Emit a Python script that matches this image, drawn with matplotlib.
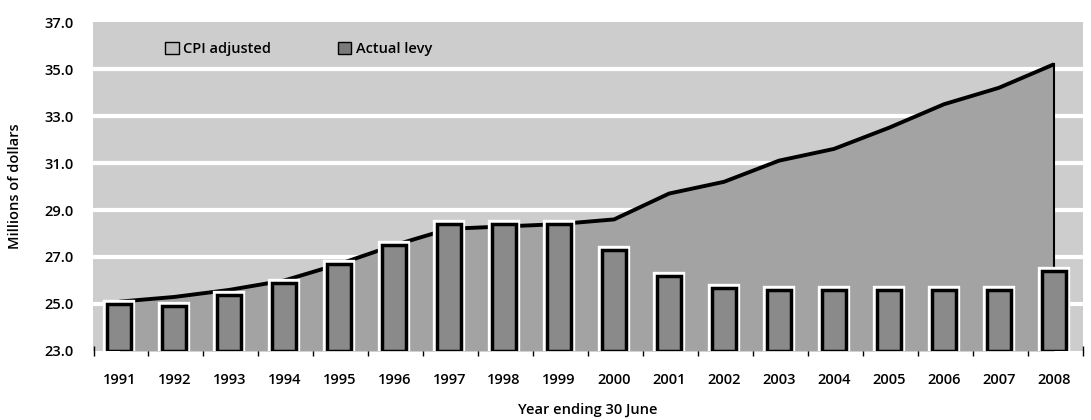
import matplotlib
matplotlib.use("Agg")
import matplotlib.pyplot as plt
import numpy as np
from matplotlib.patches import Patch

# Data (millions of dollars)
years = [str(y) for y in range(1991, 2009)]
cpi_adjusted = [25.1, 25.3, 25.6, 26.0, 26.7, 27.5, 28.2, 28.3, 28.4, 28.6,
                29.7, 30.2, 31.1, 31.6, 32.5, 33.5, 34.2, 35.2]
actual_levy = [25.0, 24.9, 25.4, 25.9, 26.7, 27.5, 28.4, 28.4, 28.4, 27.3,
               26.2, 25.7, 25.6, 25.6, 25.6, 25.6, 25.6, 26.4]

plt.rcParams['font.family'] = ['Open Sans', 'DejaVu Sans']

bg_col = '#cdcdcd'
area_col = '#a3a3a3'
bar_col = '#8a8a8a'

fig = plt.figure(figsize=(10.91, 4.20), dpi=100)
ax = fig.add_axes([0.0852, 0.1643, 0.9075, 0.7833])
ax.set_facecolor(bg_col)

x = np.arange(len(years))

# white grid lines behind everything
for g in [25, 27, 29, 31, 33, 35]:
    ax.axhline(g, color='white', lw=3, zorder=1)

# CPI adjusted area
ax.fill_between(x, 23, cpi_adjusted, color=area_col, lw=0, zorder=2)
ax.plot(x, cpi_adjusted, color='black', lw=2.8, zorder=3, solid_capstyle='butt')
ax.plot([x[-1], x[-1]], [actual_levy[-1], cpi_adjusted[-1]], color='black', lw=1.5, zorder=3)

# actual levy bars, white halo then black edge
ax.bar(x, np.array(actual_levy) - 23, bottom=23, width=0.44,
       color='none', edgecolor='white', lw=6, zorder=4)
ax.bar(x, np.array(actual_levy) - 23, bottom=23, width=0.44,
       color=bar_col, edgecolor='black', lw=2.5, zorder=5)

ax.set_xlim(-0.48, 17.5)
ax.set_ylim(23, 37)
ax.set_yticks(np.arange(23, 37.1, 2))
ax.set_yticklabels(['%.1f' % v for v in np.arange(23, 37.1, 2)], fontsize=10.5, weight='semibold')
ax.set_xticks(x)
ax.set_xticklabels(years, fontsize=10.5, weight='semibold')
ax.tick_params(axis='y', length=0, pad=14)
ax.tick_params(axis='x', length=0, pad=16)
ax.set_xticks(np.arange(-0.47, 17.6, 1), minor=True)
ax.tick_params(axis='x', which='minor', length=7, direction='inout', width=1, color='black')

for s in ax.spines.values():
    s.set_visible(False)

ax.set_ylabel('Millions of dollars', fontsize=10.5, labelpad=16, weight='semibold')
ax.set_xlabel('Year ending 30 June', fontsize=10.5, labelpad=11, weight='semibold')

handles = [Patch(facecolor='#bdbdbd', edgecolor='black', lw=1),
           Patch(facecolor='#7a7a7a', edgecolor='black', lw=1)]
ax.legend(handles, ['CPI adjusted', 'Actual levy'], loc='upper left',
          bbox_to_anchor=(0.06, 0.98), ncol=2, frameon=False,
          prop={'size': 10.5, 'weight': 'semibold'},
          handlelength=0.9, handleheight=0.9, handletextpad=0.3, columnspacing=4.6)

fig.savefig('out.png', dpi=100)
